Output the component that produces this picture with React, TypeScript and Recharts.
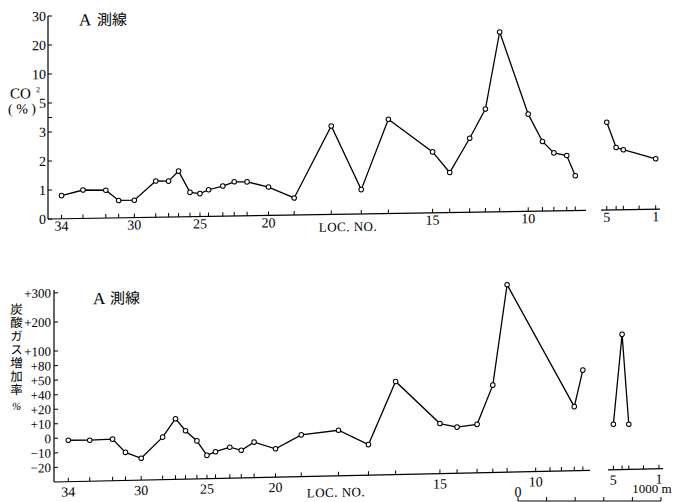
import { LineChart, Line, XAxis, YAxis } from 'recharts'

// LOC. NO. along the A line and its position (m from LOC. 34), main section
const locMain = [34, 33, 32, 31, 30, 29, 28, 27, 26, 25, 24, 23, 22, 21, 20, 19, 18, 17, 16, 15, 14, 13, 12, 11, 10, 9, 8, 7, 6]
const distMain = [0, 150, 310, 400, 510, 660, 750, 820, 900, 970, 1030, 1130, 1210, 1300, 1450, 1630, 1890, 2100, 2290, 2600, 2720, 2860, 2970, 3070, 3270, 3370, 3450, 3540, 3600]
// CO2 (%)
const co2Main = [0.8, 0.98, 0.96, 0.6, 0.6, 1.25, 1.24, 1.58, 0.84, 0.79, 0.92, 1.04, 1.18, 1.17, 0.98, 0.59, 3.1, 0.84, 3.5, 2.1, 1.38, 2.55, 4.1, 22, 3.7, 2.4, 2.0, 1.9, 1.2]
// 炭酸ガス増加率 (%)
const rateMain = [-1.5, -1.8, -1.4, -10.7, -15, -0.8, 11.7, 3.3, -3.9, -14, -11.6, -8.7, -11, -5.6, -10.5, -1.3, 1.3, -9, 44, 4.4, 1.7, 3.3, 40, 294, null, null, null, 14, 49]

// after the break, position from LOC. 5
const locEnd = [5, 4, 3, 2, 1]
const distEnd = [0, 65, 115, 225, 340]
const co2End = [3.05, 2.15, 2.07, null, 1.74]
const rateEnd = [1.3, 115, 1.1, null, null]

const labelledLocs = [34, 30, 25, 20, 15, 10, 5, 1]

// the y axes are stretched by hand: equal steps between these values
const co2Stops = [0, 1, 2, 3, 5, 10, 20, 30]
const co2StopPos = [0, 1, 2, 3, 4, 5, 6, 7]
const co2Ticks = [0, 1, 2, 3, 4, 5, 10, 20, 30]
const co2TickLabels = ['0', '1', '2', '3', '', '5', '10', '20', '30']

const rateStops = [-20, -10, 0, 10, 20, 40, 50, 80, 100, 200, 300]
const rateStopPos = [0, 1, 2, 3, 4, 5, 6, 7, 8, 10, 12]
const rateTicks = [-20, -10, 0, 10, 20, 40, 50, 80, 100, 200, 300]
const rateTickLabels = ['−20', '−10', '0', '+10', '+20', '+40', '+50', '+80', '+100', '+200', '+300']

const scaleTicks = [0, 200, 400, 600, 800, 1000]

const warp = (stops: number[], pos: number[]) => (v: number | null) => {
  if (v == null) return null
  let i = 0
  while (i < stops.length - 2 && v > stops[i + 1]) i++
  const t = (v - stops[i]) / (stops[i + 1] - stops[i])
  return pos[i] + t * (pos[i + 1] - pos[i])
}
const co2Y = warp(co2Stops, co2StopPos)
const rateY = warp(rateStops, rateStopPos)

const build = (locs: number[], dist: number[], vals: (number | null)[], f: (v: number | null) => number | null) =>
  locs.map((loc, i) => ({ loc, d: dist[i], y: f(vals[i]) }))

const topMain = build(locMain, distMain, co2Main, co2Y)
const topEnd = build(locEnd, distEnd, co2End, co2Y)
const botMain = build(locMain, distMain, rateMain, rateY)
const botEnd = build(locEnd, distEnd, rateEnd, rateY)

const locFmt = (locs: number[], dist: number[]) => (d: number) => {
  const loc = locs[dist.indexOf(d)]
  return labelledLocs.includes(loc) ? String(loc) : ''
}
const valFmt = (ticks: number[], labels: string[], f: (v: number | null) => number | null) => (p: number) => {
  const i = ticks.findIndex((t) => Math.abs((f(t) as number) - p) < 1e-6)
  return i >= 0 ? labels[i] : ''
}

const serif = 'Liberation Serif, DejaVu Serif, serif'
const jp = 'Noto Sans CJK JP, sans-serif'
const tickStyle = { fontFamily: serif, fontSize: 14, fill: '#000' }
const axisLine = { stroke: '#000', strokeWidth: 1.2 }
const tickLine = { stroke: '#000', strokeWidth: 1 }
const dot = { r: 2.3, fill: '#fff', stroke: '#000', strokeWidth: 1 }

function ScaleTick(props: any) {
  const { x, y, payload } = props
  if (payload.value === 0)
    return <text x={x} y={y} textAnchor="middle" fontFamily={serif} fontSize={14}>0</text>
  if (payload.value === 1000)
    return <text x={x - 9} y={y - 4} textAnchor="middle" fontFamily={serif} fontSize={13}>1000 m</text>
  return null
}

export default function App() {
  return (
    <div style={{ position: 'absolute', left: 0, top: 0, width: 674, height: 502, background: '#fff', overflow: 'hidden' }}>
      {/* CO2 — the printed page sits slightly askew */}
      <div style={{ position: 'absolute', left: 0, top: 0, width: 674, height: 250, transform: 'skewY(-0.92deg)', transformOrigin: '48px 219px' }}>
        <div style={{ position: 'absolute', left: 0, top: 0 }}>
          <LineChart width={600} height={250} data={topMain} margin={{ top: 16, right: 14, bottom: 1, left: 0 }}>
            <XAxis dataKey="d" type="number" domain={[-95, 3675]} ticks={distMain} interval={0}
              tickFormatter={locFmt(locMain, distMain)} height={30} tickSize={-4} tickMargin={6}
              tick={tickStyle} axisLine={axisLine} tickLine={tickLine} />
            <YAxis type="number" domain={[0, 7]} ticks={co2Ticks.map((t) => co2Y(t) as number)} interval={0}
              tickFormatter={valFmt(co2Ticks, co2TickLabels, co2Y)} width={48} tickSize={-4} tickMargin={6}
              tick={tickStyle} axisLine={axisLine} tickLine={tickLine} />
            <Line dataKey="y" stroke="#000" strokeWidth={1.3} dot={dot} activeDot={false} connectNulls isAnimationActive={false} />
            <text x={79} y={26} fontFamily={serif} fontSize={17}>A</text>
            <text x={97} y={26} fontFamily={jp} fontSize={15}>測線</text>
            <text x={10} y={98} fontFamily={serif} fontSize={15}>CO</text>
            <text x={36} y={92} fontFamily={serif} fontSize={8}>2</text>
            <text x={8} y={113} fontFamily={serif} fontSize={14}>( % )</text>
            <text x={348} y={236} textAnchor="middle" fontFamily={serif} fontSize={13} letterSpacing={0.5}>LOC. NO.</text>
          </LineChart>
        </div>
        <div style={{ position: 'absolute', left: 590, top: 0 }}>
          <LineChart width={84} height={250} data={topEnd} margin={{ top: 16, right: 14, bottom: 1, left: 11 }}>
            <XAxis dataKey="d" type="number" domain={[-40, 370]} ticks={distEnd} interval={0}
              tickFormatter={locFmt(locEnd, distEnd)} height={30} tickSize={-4} tickMargin={6}
              tick={tickStyle} axisLine={axisLine} tickLine={tickLine} />
            <YAxis hide type="number" domain={[0, 7]} />
            <Line dataKey="y" stroke="#000" strokeWidth={1.3} dot={dot} activeDot={false} connectNulls isAnimationActive={false} />
          </LineChart>
        </div>
      </div>

      {/* 炭酸ガス増加率 */}
      <div style={{ position: 'absolute', left: 0, top: 260, width: 674, height: 250, transform: 'skewY(-1.25deg)', transformOrigin: '54px 222px' }}>
        <div style={{ position: 'absolute', left: 0, top: 0 }}>
          <LineChart width={604} height={250} data={botMain} margin={{ top: 30, right: 14, bottom: 8, left: 0 }}>
            <XAxis dataKey="d" type="number" domain={[-100, 3650]} ticks={distMain} interval={0}
              tickFormatter={locFmt(locMain, distMain)} height={20} tickSize={-4} tickMargin={9}
              tick={tickStyle} axisLine={axisLine} tickLine={tickLine} />
            <YAxis type="number" domain={[-1, 12.2]} ticks={rateTicks.map((t) => rateY(t) as number)} interval={0}
              tickFormatter={valFmt(rateTicks, rateTickLabels, rateY)} width={54} tickSize={-4} tickMargin={7}
              tick={{ ...tickStyle, fontSize: 13 }} axisLine={axisLine} tickLine={tickLine} />
            <Line dataKey="y" stroke="#000" strokeWidth={1.3} dot={dot} activeDot={false} connectNulls isAnimationActive={false} />
            <text x={93} y={45} fontFamily={serif} fontSize={17}>A</text>
            <text x={110} y={45} fontFamily={jp} fontSize={15}>測線</text>
            <text x={16.5} y={42} fontFamily={jp} fontSize={12.5} letterSpacing={0.9} style={{ writingMode: 'vertical-rl' }}>炭酸ガス増加率</text>
            <text x={16.5} y={149} textAnchor="middle" fontFamily={serif} fontSize={11} fontStyle="italic">%</text>
            <text x={336} y={243} textAnchor="middle" fontFamily={serif} fontSize={13} letterSpacing={0.5}>LOC. NO.</text>
          </LineChart>
        </div>
        <div style={{ position: 'absolute', left: 596, top: 0 }}>
          <LineChart width={78} height={250} data={botEnd} margin={{ top: 30, right: 11, bottom: 8, left: 12 }}>
            <XAxis dataKey="d" type="number" domain={[-40, 370]} ticks={distEnd} interval={0}
              tickFormatter={locFmt(locEnd, distEnd)} height={20} tickSize={-4} tickMargin={9}
              tick={tickStyle} axisLine={axisLine} tickLine={tickLine} />
            <YAxis hide type="number" domain={[-1, 12.2]} />
            <Line dataKey="y" stroke="#000" strokeWidth={1.3} dot={dot} activeDot={false} connectNulls isAnimationActive={false} />
          </LineChart>
        </div>
      </div>

      {/* scale bar */}
      <div style={{ position: 'absolute', left: 500, top: 470 }}>
        <LineChart width={174} height={33} data={scaleTicks.map((d) => ({ d, y: 0 }))} margin={{ top: 0, right: 13, bottom: 1, left: 18 }}>
          <XAxis orientation="top" dataKey="d" type="number" domain={[0, 1000]} ticks={scaleTicks} interval={0}
            height={31} tickSize={4} tickMargin={0} tick={<ScaleTick />} axisLine={axisLine} tickLine={tickLine} />
          <YAxis hide type="number" domain={[0, 1]} />
          <Line dataKey="y" stroke="none" dot={false} activeDot={false} isAnimationActive={false} />
        </LineChart>
      </div>
    </div>
  )
}
